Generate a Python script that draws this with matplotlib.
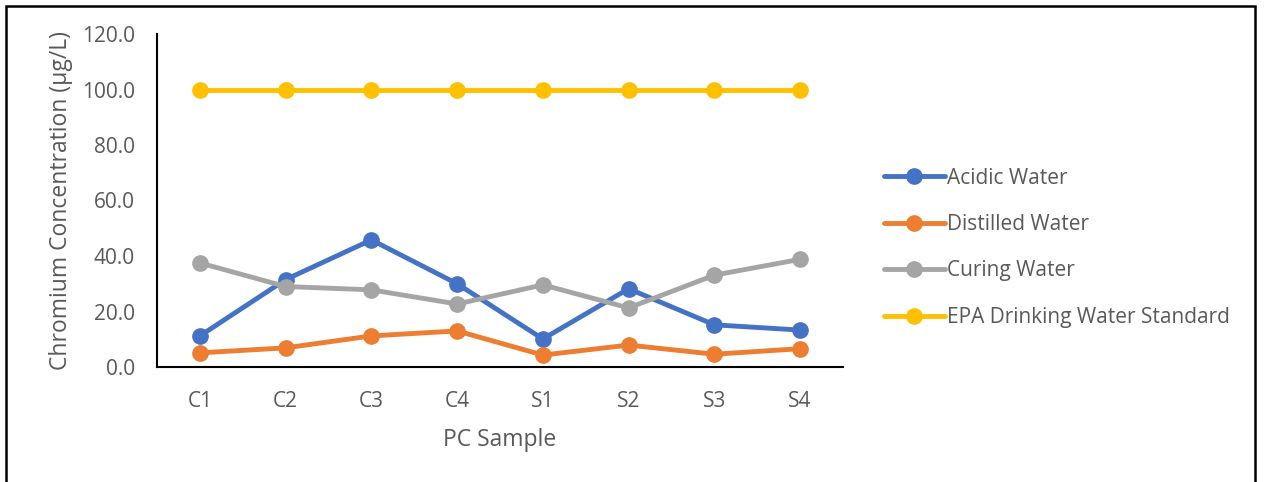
import matplotlib
matplotlib.use("Agg")
import matplotlib.pyplot as plt
from matplotlib.patches import Rectangle

plt.rcParams["font.family"] = ["Open Sans", "DejaVu Sans"]

# ── data ──
samples = ["C1", "C2", "C3", "C4", "S1", "S2", "S3", "S4"]
acidic = [11.2, 31.5, 45.8, 30.0, 10.1, 28.2, 15.2, 13.3]
distilled = [5.1, 6.9, 11.2, 13.0, 4.3, 7.9, 4.6, 6.6]
curing = [37.5, 29.0, 27.8, 22.7, 29.6, 21.3, 33.1, 38.8]
epa = [100.0] * 8

series = [
    ("Acidic Water", acidic, "#4472C4"),
    ("Distilled Water", distilled, "#ED7D31"),
    ("Curing Water", curing, "#A5A5A5"),
    ("EPA Drinking Water Standard", epa, "#FFC000"),
]

TEXT = "#595959"

fig = plt.figure(figsize=(12.64, 4.82), dpi=100)
ax = fig.add_axes([157 / 1264, 1 - 367 / 482, (843 - 157) / 1264, (367 - 34) / 482])

x = range(len(samples))
for name, vals, color in series:
    ax.plot(x, vals, color=color, lw=3.5, marker="o", ms=11, label=name,
            solid_capstyle="round")

ax.set_xlim(-0.5, len(samples) - 0.5)
ax.set_ylim(0, 120)
ax.set_yticks(range(0, 121, 20))
ax.set_yticklabels([f"{v:.1f}" for v in range(0, 121, 20)])
ax.set_xticks(list(x))
ax.set_xticklabels(samples)
ax.tick_params(length=0, labelsize=15, colors=TEXT)
ax.tick_params(axis="x", pad=17)
ax.tick_params(axis="y", pad=16)

for side in ("top", "right"):
    ax.spines[side].set_visible(False)
for side in ("left", "bottom"):
    ax.spines[side].set_color("black")
    ax.spines[side].set_linewidth(1.5)

ax.set_xlabel("PC Sample", fontsize=16.5, color=TEXT, labelpad=12)
ax.set_ylabel("Chromium Concentration (µg/L)", fontsize=16.5, color=TEXT, labelpad=6)

leg = ax.legend(loc="center left", bbox_to_anchor=(1.048, 0.358), frameon=False,
                fontsize=15, handlelength=2.9, handletextpad=0.12,
                labelspacing=1.22, borderaxespad=0)
for t in leg.get_texts():
    t.set_color(TEXT)

# outer frame
fig.patches.append(Rectangle((6 / 1264, -0.05), (1255 - 6) / 1264, 1 - 6 / 482 + 0.05,
                             transform=fig.transFigure, fill=False,
                             edgecolor="black", lw=1.8))

fig.savefig("out.png", dpi=100)
